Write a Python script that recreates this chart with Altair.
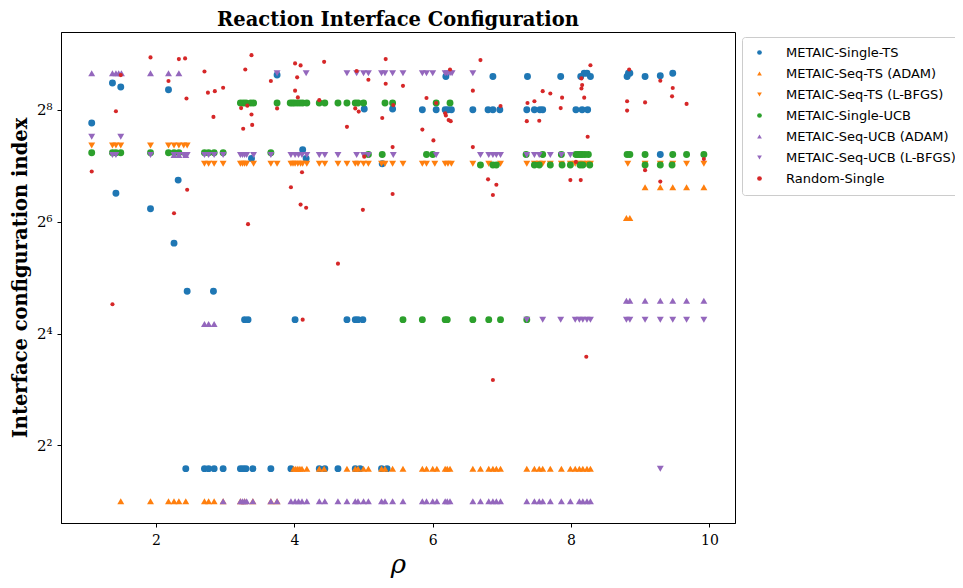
import altair as alt
import pandas as pd

methods = ["METAIC-Single-TS", "METAIC-Seq-TS (ADAM)", "METAIC-Seq-TS (L-BFGS)",
           "METAIC-Single-UCB", "METAIC-Seq-UCB (ADAM)", "METAIC-Seq-UCB (L-BFGS)",
           "Random-Single"]
colors = ["#1f77b4", "#ff7f0e", "#ff7f0e", "#2ca02c", "#9467bd", "#9467bd", "#d62728"]
shapes = ["circle", "triangle-up", "triangle-down", "circle", "triangle-up", "triangle-down", "circle"]

y_ticks = [4, 16, 64, 256]
x_ticks = [2, 4, 6, 8, 10]

# (rho, configuration index) pairs per method
single_ts = [
    (1.07, 217), (1.37, 356), (1.49, 339), (1.42, 91), (1.92, 75), (2.18, 328), (2.32, 107),
    (2.26, 49), (3.75, 393), (3.38, 140), (4.12, 156), (4.17, 140), (5.01, 258), (5.42, 258),
    (5.27, 131), (5.85, 256), (6.05, 256), (6.18, 256), (6.22, 256), (6.27, 256), (6.19, 386),
    (6.58, 256), (6.80, 256), (6.87, 256), (6.97, 256), (6.87, 386), (7.36, 256), (7.47, 256),
    (7.55, 256), (7.59, 256), (7.37, 386), (7.85, 386), (8.07, 256), (8.16, 256), (8.24, 256),
    (8.14, 386), (8.19, 402), (8.23, 402), (8.28, 386), (8.81, 386), (8.83, 402), (8.85, 402),
    (9.07, 386), (9.29, 390), (9.47, 402), (9.29, 147),
    (3.28, 19), (3.33, 19), (4.01, 19), (4.76, 19), (4.88, 19), (4.92, 19), (4.99, 19),
    (2.45, 27), (2.83, 27),
    (2.43, 3), (2.70, 3), (2.76, 3), (2.84, 3), (2.97, 3), (3.22, 3), (3.26, 3), (3.30, 3),
    (3.40, 3), (3.66, 3), (3.95, 3), (4.36, 3), (4.44, 3), (4.63, 3), (4.88, 3), (4.95, 3),
    (5.26, 3), (5.34, 3),
]

seq_ts_adam = [
    (1.49, 2), (1.92, 2), (2.18, 2), (2.26, 2), (2.33, 2), (2.43, 2), (2.70, 2), (2.76, 2), (2.84, 2),
    (2.97, 2), (3.22, 2), (3.28, 2), (3.40, 2), (3.66, 2), (3.75, 2),
    (3.99, 3), (4.02, 3), (4.05, 3), (4.08, 3), (4.11, 3), (4.18, 3), (4.36, 3), (4.43, 3),
    (4.76, 3), (4.88, 3), (4.92, 3), (5.00, 3), (5.07, 3), (5.26, 3), (5.31, 3), (5.42, 3),
    (5.57, 3), (5.85, 3), (5.91, 3), (6.00, 3), (6.06, 3), (6.18, 3), (6.21, 3), (6.25, 3),
    (6.58, 3), (6.69, 3), (6.81, 3), (6.87, 3), (6.92, 3), (6.98, 3), (7.36, 3), (7.47, 3),
    (7.54, 3), (7.59, 3), (7.70, 3), (7.86, 3), (7.99, 3), (8.06, 3), (8.12, 3), (8.17, 3),
    (8.23, 3), (8.28, 3),
    (9.07, 98), (9.29, 98), (9.47, 98), (9.67, 98), (9.92, 98),
    (8.80, 67), (8.85, 67),
]

seq_ts_lbfgs = [
    (1.07, 164), (1.37, 164), (1.42, 164), (1.49, 164), (1.92, 164), (2.18, 164), (2.26, 164),
    (2.33, 164), (2.40, 164), (2.45, 164),
    (2.70, 131), (2.76, 131), (2.84, 131), (2.97, 131), (3.22, 131), (3.25, 131), (3.28, 131),
    (3.31, 131), (3.41, 131), (3.66, 131), (3.75, 131), (3.95, 131), (3.98, 131), (4.01, 131),
    (4.05, 131), (4.09, 131), (4.12, 131), (4.18, 131), (4.36, 131), (4.44, 131), (4.63, 131),
    (4.76, 131), (4.88, 131), (4.92, 131), (5.00, 131), (5.07, 131), (5.26, 131), (5.31, 131),
    (5.42, 131), (5.57, 131), (5.85, 131), (5.91, 131), (6.03, 131), (6.18, 131), (6.22, 131),
    (6.27, 131), (6.58, 131), (6.81, 131), (6.98, 131), (7.36, 131), (7.47, 131), (7.54, 131),
    (7.59, 131), (7.70, 131), (7.86, 131), (7.99, 131), (8.06, 131), (8.12, 131), (8.17, 131),
    (8.23, 131), (8.28, 131), (8.82, 131), (9.07, 131), (9.29, 131), (9.47, 131), (9.67, 131),
    (9.92, 131),
]

single_ucb = [
    (1.07, 150), (1.37, 150), (1.42, 150), (1.49, 150), (1.92, 150), (2.18, 150), (2.26, 150),
    (2.33, 150), (2.70, 150), (2.76, 150), (2.84, 150), (2.97, 150), (3.66, 150),
    (3.22, 278), (3.26, 278), (3.30, 278), (3.37, 278), (3.41, 278), (3.75, 278), (3.94, 278),
    (3.97, 278), (4.00, 278), (4.04, 278), (4.08, 278), (4.12, 278), (4.18, 278), (4.36, 278),
    (4.44, 278), (4.63, 278), (4.76, 278), (4.88, 278), (4.92, 278), (5.00, 278), (5.31, 278),
    (5.42, 278), (6.05, 278), (6.25, 278),
    (5.07, 147), (5.27, 147), (5.91, 147), (6.00, 147), (7.35, 147), (7.59, 147), (7.86, 147),
    (8.07, 147), (8.10, 147), (8.13, 147), (8.16, 147), (8.20, 147), (8.25, 147), (8.81, 147),
    (8.85, 147), (9.07, 147), (9.47, 147), (9.67, 147), (9.92, 147),
    (6.69, 129), (6.87, 129), (6.92, 129), (7.47, 129), (7.54, 129), (7.70, 129), (7.87, 129),
    (7.99, 129), (8.13, 129), (8.17, 129), (8.27, 129), (9.07, 129), (9.29, 129), (9.46, 129),
    (5.57, 19), (5.85, 19), (6.18, 19), (6.21, 19), (6.58, 19), (6.81, 19), (6.98, 19), (7.36, 19),
]

seq_ucb_adam = [
    (1.07, 402), (1.37, 402), (1.42, 402), (1.46, 402), (1.50, 402), (1.92, 402), (2.18, 402),
    (2.33, 402),
    (2.26, 146), (2.33, 146), (2.43, 146),
    (2.70, 18), (2.76, 18), (2.84, 18),
    (2.97, 2), (3.22, 2), (3.25, 2), (3.28, 2), (3.31, 2), (3.40, 2), (3.66, 2), (3.75, 2),
    (3.95, 2), (4.01, 2), (4.06, 2), (4.11, 2), (4.18, 2), (4.36, 2), (4.44, 2), (4.63, 2),
    (4.76, 2), (4.88, 2), (4.92, 2), (5.00, 2), (5.07, 2), (5.26, 2), (5.31, 2), (5.42, 2),
    (5.57, 2), (5.85, 2), (5.91, 2), (6.00, 2), (6.06, 2), (6.18, 2), (6.21, 2), (6.25, 2),
    (6.58, 2), (6.69, 2), (6.81, 2), (6.87, 2), (6.92, 2), (6.98, 2), (7.36, 2), (7.47, 2),
    (7.54, 2), (7.59, 2), (7.70, 2), (7.86, 2), (7.99, 2), (8.12, 2), (8.17, 2), (8.23, 2),
    (8.28, 2),
    (8.80, 24), (8.85, 24), (9.07, 24), (9.29, 24), (9.47, 24), (9.67, 24), (9.92, 24),
]

seq_ucb_lbfgs = [
    (1.07, 183), (1.49, 183),
    (1.37, 146), (1.42, 146), (1.92, 146), (2.26, 146), (2.33, 146), (2.40, 146), (2.45, 146),
    (2.70, 146), (2.76, 146), (2.84, 146), (2.97, 146), (3.22, 146), (3.25, 146), (3.28, 146),
    (3.31, 146), (3.41, 146), (3.66, 146), (3.95, 146), (4.01, 146), (4.06, 146), (4.11, 146),
    (4.18, 146), (4.36, 146), (4.44, 146), (4.63, 146), (4.90, 146), (5.00, 146), (5.07, 146),
    (5.43, 146), (6.05, 146), (6.69, 146), (6.81, 146), (6.87, 146), (6.92, 146), (6.98, 146),
    (7.36, 146), (7.47, 146), (7.54, 146), (7.70, 146), (7.86, 146), (7.99, 146),
    (3.75, 402), (4.17, 402), (4.76, 402), (4.90, 402), (5.00, 402), (5.07, 402), (5.26, 402),
    (5.31, 402), (5.42, 402), (5.57, 402), (5.85, 402), (5.91, 402), (6.00, 402), (6.18, 402),
    (6.21, 402), (6.25, 402), (6.28, 402), (6.58, 402),
    (7.36, 19), (7.59, 19), (7.85, 19), (8.06, 19), (8.12, 19), (8.17, 19), (8.23, 19),
    (8.28, 19), (8.80, 19), (8.85, 19), (9.07, 19), (9.29, 19), (9.47, 19), (9.67, 19), (9.92, 19),
    (9.29, 3),
]

random_single = [
    (1.07, 119), (1.42, 251), (1.49, 393), (1.92, 489), (2.18, 365), (2.33, 479), (2.42, 483),
    (2.44, 294), (2.45, 95), (2.26, 71), (2.70, 411), (2.75, 316), (2.85, 322), (2.97, 336),
    (2.83, 234), (3.23, 261), (3.26, 202), (3.29, 421), (3.32, 269), (3.38, 503), (3.38, 241),
    (3.39, 212), (3.33, 62), (3.66, 365), (3.75, 260), (4.01, 454), (4.09, 443), (4.04, 382),
    (4.01, 324), (4.05, 298), (3.95, 98), (4.09, 79), (4.17, 76), (4.11, 118), (4.43, 463),
    (4.36, 288), (4.76, 207), (4.63, 38), (4.88, 260), (4.93, 250), (4.90, 413), (5.07, 371),
    (5.01, 143), (4.99, 74), (5.27, 231), (5.32, 479), (5.32, 353), (5.43, 271), (5.42, 161),
    (5.42, 90), (5.57, 344), (5.91, 296), (5.85, 200), (6.01, 175), (6.05, 278), (6.18, 245),
    (6.19, 238), (6.23, 225), (6.26, 222), (6.25, 421), (6.69, 473), (6.58, 324), (6.58, 161),
    (6.80, 108), (6.92, 101), (6.87, 89), (6.98, 268), (7.37, 278), (7.47, 284), (7.36, 222),
    (7.54, 223), (7.59, 322), (7.70, 313), (7.87, 297), (7.85, 261), (7.99, 107), (8.14, 107),
    (8.07, 134), (8.24, 183), (8.15, 377), (8.16, 347), (8.15, 333), (8.19, 297), (8.28, 444),
    (8.84, 421), (8.81, 284), (8.81, 253), (9.07, 280), (9.07, 121), (9.29, 366), (9.29, 105),
    (9.47, 335), (9.46, 302), (9.67, 275), (9.92, 139), (1.37, 23), (4.12, 19), (6.87, 9),
    (8.22, 12),
]

series = [single_ts, seq_ts_adam, seq_ts_lbfgs, single_ucb, seq_ucb_adam, seq_ucb_lbfgs, random_single]
rows = []
for name, pts in zip(methods, series):
    for r, v in pts:
        rows.append({"rho": r, "idx": v, "method": name})
df = pd.DataFrame(rows)

legend = alt.Legend(
    title=None, orient="none", legendX=681, legendY=5,
    labelFont="DejaVu Sans", labelFontSize=13, labelColor="#000", labelLimit=400,
    symbolSize=22, symbolStrokeWidth=0, rowPadding=7,
    padding=9, strokeColor="#cccccc", fillColor="#ffffff", cornerRadius=3,
    symbolOffset=2, labelOffset=20,
)

label_expr = ("datum.value == 4 ? '2²' : datum.value == 16 ? '2⁴' : "
              "datum.value == 64 ? '2⁶' : '2⁸'")

base = alt.Chart(df).encode(
    x=alt.X("rho:Q", title="ρ",
            scale=alt.Scale(domain=[0.626, 10.37], nice=False, zero=False),
            axis=alt.Axis(values=x_ticks, grid=False, labelFont="DejaVu Serif",
                          labelFontSize=14, labelColor="#000", labelPadding=6,
                          titleFont="DejaVu Serif", titleFontStyle="italic",
                          titleFontWeight="normal", titleFontSize=26,
                          titleBaseline="alphabetic", titleY=49,
                          titleColor="#000", tickColor="#000", tickSize=4,
                          domainColor="#000")),
    y=alt.Y("idx:Q", title="Interface configuration index",
            scale=alt.Scale(type="log", base=2, domain=[1.53, 670], nice=False),
            axis=alt.Axis(values=y_ticks, labelExpr=label_expr, grid=False,
                          labelFont="DejaVu Serif", labelFontSize=15, labelColor="#000",
                          labelPadding=5,
                          titleFont="DejaVu Serif", titleFontWeight="bold",
                          titleFontSize=19.5, titlePadding=6, titleColor="#000",
                          tickColor="#000", tickSize=4, domainColor="#000")),
    color=alt.Color("method:N", scale=alt.Scale(domain=methods, range=colors), legend=legend),
    shape=alt.Shape("method:N", scale=alt.Scale(domain=methods, range=shapes), legend=legend),
)

main_pts = base.transform_filter(alt.datum.method != "Random-Single").mark_point(
    filled=True, opacity=1, strokeWidth=0, size=48)
rand_pts = base.transform_filter(alt.datum.method == "Random-Single").mark_point(
    filled=True, opacity=1, strokeWidth=0, size=17)

chart = alt.layer(main_pts, rand_pts).properties(
    width=674, height=491,
    title=alt.TitleParams("Reaction Interface Configuration", font="DejaVu Serif",
                          fontWeight="bold", fontSize=19.5, color="#000", offset=2,
                          anchor="middle"),
    autosize=alt.AutoSizeParams(type="none"),
    padding={"left": 53, "top": 24, "right": 220, "bottom": 57},
).configure_view(stroke="#000", strokeWidth=1)

chart.save("out.html", embed_options={"renderer": "svg", "actions": False})
